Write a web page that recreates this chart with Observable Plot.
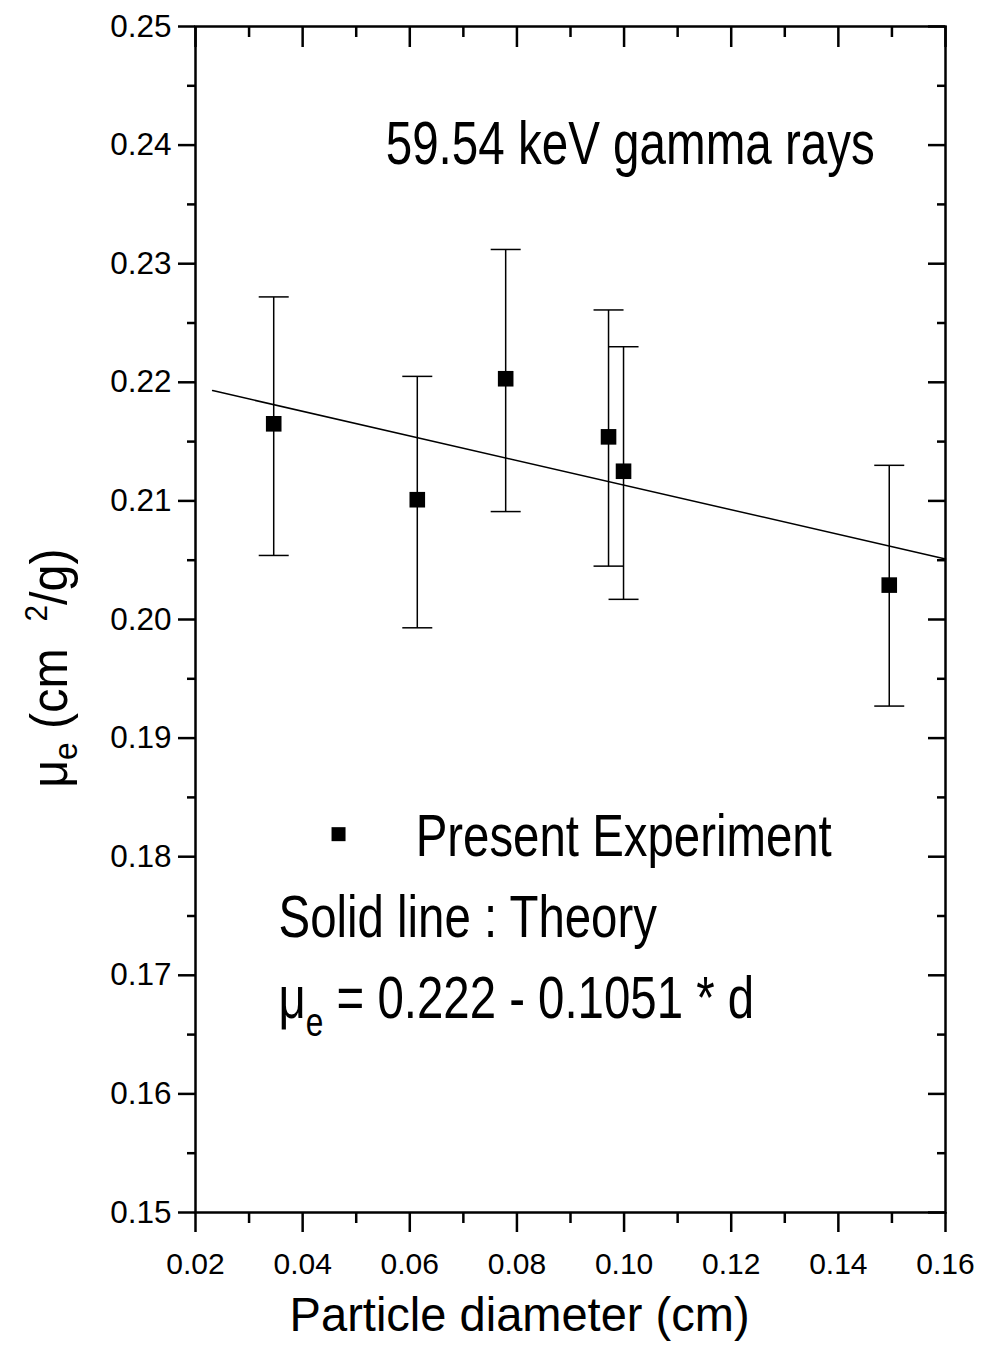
<!DOCTYPE html>
<html><head><meta charset="utf-8">
<script src="https://cdn.jsdelivr.net/npm/d3@7"></script>
<script src="https://cdn.jsdelivr.net/npm/@observablehq/plot@0.6"></script>
<style>body{margin:0;background:#fff}svg{display:block}</style>
</head><body><div id="chart"></div>
<script>
// ---- data ----
const diameter = [0.0346, 0.0614, 0.0779, 0.0971, 0.0999, 0.1495];
const muExp    = [0.2165, 0.2101, 0.2203, 0.2154, 0.2125, 0.2029];
const errHigh  = [0.2272, 0.2205, 0.2312, 0.2261, 0.2230, 0.2130];
const errLow   = [0.2054, 0.1993, 0.2091, 0.2045, 0.2017, 0.1927];
const theoryD  = [0.0232, 0.16];
const theoryMu = [0.2193, 0.2051];
const xTicks = [0.02, 0.04, 0.06, 0.08, 0.10, 0.12, 0.14, 0.16];
const xMinor = [0.03, 0.05, 0.07, 0.09, 0.11, 0.13, 0.15];
const yTicks = [0.15, 0.16, 0.17, 0.18, 0.19, 0.20, 0.21, 0.22, 0.23, 0.24, 0.25];
const yMinor = [0.155, 0.165, 0.175, 0.185, 0.195, 0.205, 0.215, 0.225, 0.235, 0.245];
const titleText  = "59.54 keV gamma rays";
const legendText = "Present Experiment";
const theoryText = "Solid line : Theory";
const eqnText    = "μe = 0.222 - 0.1051 * d";
const xLabel     = "Particle diameter (cm)";
const yLabel     = "μe (cm 2/g)";

const points = diameter.map((d, i) => ({d, mu: muExp[i], hi: errHigh[i], lo: errLow[i]}));
const theory = theoryD.map((d, i) => ({d, mu: theoryMu[i]}));

const W = 982, H = 1345, mL = 195, mR = 37, mT = 26, mB = 133;
const fh = H - mT - mB, fw = W - mL - mR;
const capSymbol = {draw(ctx, size) { const r = Math.sqrt(size / Math.PI); ctx.moveTo(-r, 0); ctx.lineTo(r, 0); }};
const tw = 2.5;

const chart = Plot.plot({
  width: W, height: H,
  marginLeft: mL, marginRight: mR, marginTop: mT, marginBottom: mB,
  style: {fontFamily: "'Liberation Sans', Arial, sans-serif", background: "#fff", color: "#000"},
  x: {domain: [0.02, 0.16]},
  y: {domain: [0.15, 0.25]},
  marks: [
    Plot.frame({stroke: "#000", strokeWidth: 2.5}),
    // ticks: bottom & left outward, top & right inward
    Plot.ruleX(xTicks, {x: d => d, insetTop: fh, insetBottom: -20, strokeWidth: tw}),
    Plot.ruleX(xMinor, {x: d => d, insetTop: fh, insetBottom: -11, strokeWidth: tw}),
    Plot.ruleX(xTicks, {x: d => d, insetBottom: fh - 21, strokeWidth: tw}),
    Plot.ruleX(xMinor, {x: d => d, insetBottom: fh - 11, strokeWidth: tw}),
    Plot.ruleY(yTicks, {y: d => d, insetLeft: -17, insetRight: fw, strokeWidth: tw}),
    Plot.ruleY(yMinor, {y: d => d, insetLeft: -8, insetRight: fw, strokeWidth: tw}),
    Plot.ruleY(yTicks, {y: d => d, insetLeft: fw - 17, strokeWidth: tw}),
    Plot.ruleY(yMinor, {y: d => d, insetLeft: fw - 8, strokeWidth: tw}),
    Plot.axisX(xTicks, {anchor: "bottom", tickSize: 0, tickPadding: 40, tickFormat: d3.format(".2f"), fontSize: 30, label: null}),
    Plot.axisY(yTicks, {anchor: "left", tickSize: 0, tickPadding: 24, tickFormat: d3.format(".2f"), fontSize: 31.5, label: null}),
    // theory line
    Plot.line(theory, {x: "d", y: "mu", stroke: "#000", strokeWidth: 1.5}),
    // error bars
    Plot.link(points, {x1: "d", x2: "d", y1: "lo", y2: "hi", stroke: "#000", strokeWidth: 1.5}),
    Plot.dot(points, {x: "d", y: "hi", symbol: capSymbol, r: 15, stroke: "#000", fill: "none", strokeWidth: 1.5}),
    Plot.dot(points, {x: "d", y: "lo", symbol: capSymbol, r: 15, stroke: "#000", fill: "none", strokeWidth: 1.5}),
    Plot.dot(points, {x: "d", y: "mu", symbol: "square", r: 8.8, fill: "#000", stroke: null}),
    // annotations
    Plot.text([titleText], {x: 0.0555, y: 0.2384, text: d => d, textAnchor: "start", lineAnchor: "bottom", fontSize: 61}),
    Plot.dot([legendText], {x: 0.0467, y: 0.1819, symbol: "square", r: 7.9, fill: "#000", stroke: null}),
    Plot.text([legendText], {x: 0.0611, y: 0.1801, text: d => d, textAnchor: "start", lineAnchor: "bottom", fontSize: 60}),
    Plot.text([theoryText], {x: 0.0355, y: 0.1732, text: d => d, textAnchor: "start", lineAnchor: "bottom", fontSize: 60}),
    Plot.text([eqnText], {x: 0.0355, y: 0.1664, text: d => d, textAnchor: "start", lineAnchor: "bottom", fontSize: 60}),
    Plot.text([xLabel], {x: 0.0805, frameAnchor: "bottom", dy: 118, text: d => d, textAnchor: "middle", lineAnchor: "bottom", fontSize: 48}),
    Plot.text([yLabel], {y: 0.1959, frameAnchor: "left", dx: -129, rotate: -90, text: d => d, textAnchor: "middle", lineAnchor: "bottom", fontSize: 52})
  ]
});
document.getElementById("chart").appendChild(chart);

// post-process: condensed (narrow) type and sub/superscripts
const svg = d3.select(chart);
function condense(el, s) {
  const t = el.getAttribute("transform") || "";
  const x = +(el.getAttribute("x") || 0);
  el.setAttribute("transform", `${t} translate(${x},0) scale(${s},1) translate(${-x},0)`);
}
svg.selectAll("text").each(function() {
  const txt = this.textContent;
  if (txt === titleText) condense(this, 0.78);
  if (txt === legendText || txt === theoryText) condense(this, 0.79);
  if (txt === xLabel) condense(this, 0.98);
  if (txt === eqnText) {
    const t = d3.select(this); t.text(null);
    t.append("tspan").text("μ");
    t.append("tspan").attr("font-size", 40).attr("dy", 18).text("e");
    t.append("tspan").attr("dy", -18).text(" = 0.222 - 0.1051 * d");
    condense(this, 0.79);
  }
  if (txt === yLabel) {
    const t = d3.select(this); t.text(null);
    t.append("tspan").text("μ");
    t.append("tspan").attr("font-size", 34).attr("dy", 10).text("e");
    t.append("tspan").attr("dy", -10).text(" (cm  ");
    t.append("tspan").attr("font-size", 32).attr("dy", -20).text("2");
    t.append("tspan").attr("dy", 20).text("/g)");
    condense(this, 0.93);
  }
});
</script></body></html>
